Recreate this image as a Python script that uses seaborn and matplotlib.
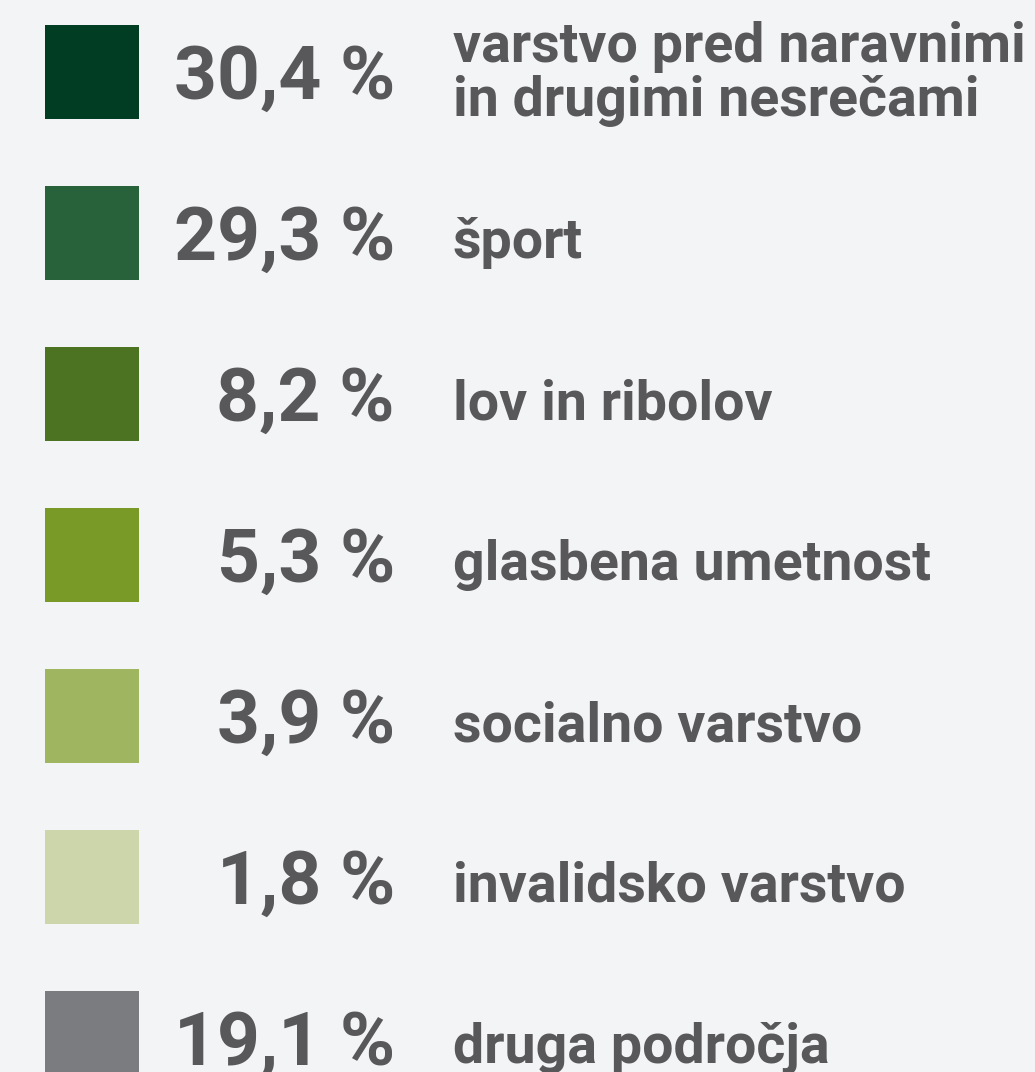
import matplotlib
matplotlib.use("Agg")
import matplotlib.pyplot as plt
import pandas as pd
import seaborn as sns
from matplotlib import font_manager

# podatki
vrednosti = [30.4, 29.3, 8.2, 5.3, 3.9, 1.8, 19.1]
podrocja = ['varstvo pred naravnimi\nin drugimi nesrečami', 'šport', 'lov in ribolov',
            'glasbena umetnost', 'socialno varstvo', 'invalidsko varstvo', 'druga področja']
barve = ['#003d22', '#27623a', '#4b7322', '#7a9a27', '#9fb55f', '#ccd6aa', '#7b7c80']

sns.set_theme(style='white')
imena = {f.name for f in font_manager.fontManager.ttflist}
pisava = 'Liberation Sans Narrow' if 'Liberation Sans Narrow' in imena else 'Roboto'
plt.rcParams['font.family'] = [pisava, 'DejaVu Sans']

ozadje = '#f3f4f6'
siva = '#58585a'

df = pd.DataFrame({'vrstica': range(len(vrednosti)), 'odstotek': vrednosti,
                   'podrocje': podrocja, 'barva': barve})
df['y'] = 72 + 161 * df['vrstica']
df['x'] = 92

fig = plt.figure(figsize=(10.35, 10.72), dpi=100, facecolor=ozadje)
ax = fig.add_axes([0, 0, 1, 1])
ax.set_facecolor(ozadje)

sns.scatterplot(data=df, x='x', y='y', hue='podrocje', palette=barve, marker='s',
                s=(94 * 0.72) ** 2, linewidth=0, legend=False, ax=ax)

for _, r in df.iterrows():
    stevilka = f"{r['odstotek']:.1f}".replace('.', ',') + ' %'
    ax.text(395, r['y'] + 27, stevilka, ha='right', va='baseline',
            fontsize=54, fontweight='bold', color=siva)
    if '\n' in r['podrocje']:
        prva, druga = r['podrocje'].split('\n')
        ax.text(453, r['y'] - 10, prva, ha='left', va='baseline',
                fontsize=40, fontweight='bold', color=siva)
        ax.text(453, r['y'] + 44, druga, ha='left', va='baseline',
                fontsize=40, fontweight='bold', color=siva)
    else:
        ax.text(453, r['y'] + 25, r['podrocje'], ha='left', va='baseline',
                fontsize=40, fontweight='bold', color=siva)

ax.set_xlim(0, 1035)
ax.set_ylim(1072, 0)
ax.axis('off')

fig.savefig('out.png', dpi=100, facecolor=ozadje)
